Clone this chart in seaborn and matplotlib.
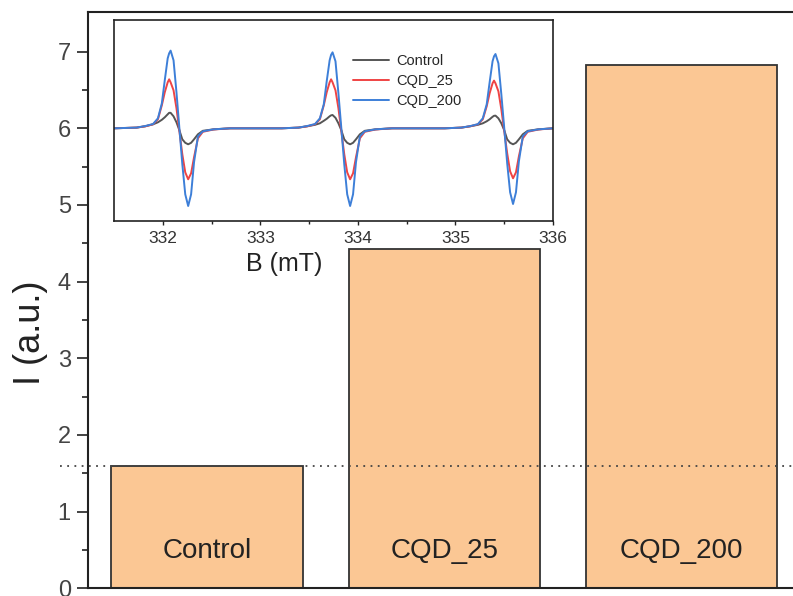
import matplotlib
matplotlib.use("Agg")
import matplotlib.pyplot as plt
import seaborn as sns
import pandas as pd

# Bar chart: integrated EPR intensity per sample
categories = ["Control", "CQD_25", "CQD_200"]
intensity = [1.60, 4.42, 6.82]
control_level = 1.60
yticks_major = [0, 1, 2, 3, 4, 5, 6, 7]
yticks_minor = [0.5, 1.5, 2.5, 3.5, 4.5, 5.5, 6.5]

# Inset: EPR spectra (magnetic field in mT, signal in arbitrary units)
field_mT = [
    331.50, 331.73, 331.82, 331.90, 331.95, 331.99, 332.02, 332.05, 332.065, 332.08, 332.11,
    332.14, 332.17, 332.20, 332.23, 332.26, 332.29, 332.32, 332.36, 332.41, 332.52, 332.69,
    333.22, 333.39, 333.48, 333.56, 333.61, 333.65, 333.68, 333.71, 333.725, 333.74, 333.77,
    333.80, 333.83, 333.86, 333.89, 333.92, 333.95, 333.98, 334.02, 334.07, 334.18, 334.35,
    334.89, 335.06, 335.15, 335.23, 335.28, 335.32, 335.35, 335.38, 335.395, 335.41, 335.44,
    335.47, 335.50, 335.53, 335.56, 335.59, 335.62, 335.65, 335.69, 335.74, 335.85, 336.00,
]
signal_control = [
    0, 0.07, 0.20, 0.40, 0.60, 0.85, 1.10, 1.40, 1.55, 1.55, 1.20,
    0.60, -0.20, -1.10, -1.45, -1.60, -1.45, -1.10, -0.60, -0.25, -0.10, 0,
    0, 0.07, 0.20, 0.35, 0.50, 0.75, 0.95, 1.20, 1.30, 1.33, 1.05,
    0.50, -0.20, -1.10, -1.45, -1.60, -1.45, -1.10, -0.60, -0.25, -0.10, 0,
    0, 0.07, 0.20, 0.35, 0.50, 0.70, 0.90, 1.15, 1.25, 1.27, 1.00,
    0.50, -0.20, -1.10, -1.45, -1.60, -1.45, -1.10, -0.60, -0.25, -0.10, 0,
]
signal_cqd25 = [
    0, 0.07, 0.20, 0.40, 0.90, 2.30, 3.60, 4.60, 4.90, 4.60, 3.80,
    2.00, -0.30, -2.60, -4.40, -5.10, -4.50, -2.90, -1.00, -0.35, -0.12, 0,
    0, 0.07, 0.20, 0.40, 0.90, 2.30, 3.60, 4.60, 4.90, 4.60, 3.80,
    2.00, -0.30, -2.60, -4.40, -5.10, -4.50, -2.90, -1.00, -0.35, -0.12, 0,
    0, 0.07, 0.20, 0.40, 0.90, 2.20, 3.50, 4.50, 4.77, 4.50, 3.70,
    1.90, -0.30, -2.50, -4.30, -5.00, -4.40, -2.80, -1.00, -0.35, -0.12, 0,
]
signal_cqd200 = [
    0, 0.07, 0.23, 0.43, 1.00, 2.50, 4.80, 7.00, 7.50, 7.77, 6.80,
    3.60, 0, -3.60, -6.60, -7.77, -6.60, -3.40, -0.80, -0.30, -0.10, 0,
    0, 0.07, 0.23, 0.43, 1.00, 2.40, 4.70, 6.80, 7.35, 7.60, 6.70,
    3.50, 0, -3.60, -6.60, -7.77, -6.60, -3.40, -0.80, -0.30, -0.10, 0,
    0, 0.07, 0.22, 0.42, 1.00, 2.40, 4.60, 6.70, 7.20, 7.43, 6.50,
    3.40, 0, -3.50, -6.40, -7.57, -6.40, -3.30, -0.80, -0.30, -0.10, 0,
]
inset_xticks = [332, 333, 334, 335, 336]
inset_xticks_minor = [332.5, 333.5, 334.5, 335.5]

line_colors = {"Control": "#555555", "CQD_25": "#ef4444", "CQD_200": "#3d7fd8"}
bar_color = "#fbc794"

sns.set_theme(style="ticks")
plt.rcParams["font.family"] = ["Liberation Sans", "DejaVu Sans"]

fig = plt.figure(figsize=(7.93, 5.96), dpi=100)
ax = fig.add_axes([0.1113, 0.0129, 0.8981, 0.9669])

bars_df = pd.DataFrame({"sample": categories, "I": intensity})
sns.barplot(data=bars_df, x="sample", y="I", color=bar_color, saturation=1,
            width=0.805, edgecolor="#333333", linewidth=1.3, ax=ax, zorder=2)

ax.set_xlim(-0.5, 2.5)
ax.set_ylim(0, 7.515)
ax.set_yticks(yticks_major)
ax.set_yticks(yticks_minor, minor=True)
ax.set_xticks([])
ax.set_xlabel("")
ax.set_ylabel("I (a.u.)", fontsize=26, color="#222222")
ax.yaxis.set_label_coords(-0.057, 0.444)
ax.tick_params(axis="y", which="major", direction="out", length=7.6, width=1.2,
               labelsize=17, labelcolor="#444444", color="#222222", pad=5)
ax.tick_params(axis="y", which="minor", direction="out", length=4.2, width=1.2,
               color="#222222")
for side in ["left", "top", "bottom"]:
    ax.spines[side].set_visible(True)
    ax.spines[side].set_linewidth(1.5)
    ax.spines[side].set_color("#222222")
ax.spines["right"].set_visible(False)

# dotted reference at the control level
ax.axhline(control_level, xmin=-0.04, xmax=1.0, color="#444444", lw=1.3,
           linestyle=(0, (1.0, 3.0)), zorder=3, clip_on=False)

# sample names inside the bars
for i, name in enumerate(categories):
    ax.text(i, 0.395, name, ha="center", va="baseline", fontsize=20,
            color="#222222", zorder=4)

# inset with the spectra
axin = fig.add_axes([0.1438, 0.6292, 0.5536, 0.3372])
axin.set_facecolor("white")
spec = pd.DataFrame({
    "B": field_mT * 3,
    "signal": signal_control + signal_cqd25 + signal_cqd200,
    "sample": (["Control"] * len(field_mT) + ["CQD_25"] * len(field_mT)
               + ["CQD_200"] * len(field_mT)),
})
sns.lineplot(data=spec, x="B", y="signal", hue="sample",
             hue_order=["Control", "CQD_25", "CQD_200"], palette=line_colors,
             estimator=None, sort=False, linewidth=1.4, ax=axin)
axin.set_xlim(331.5, 336)
axin.set_ylim(-9.27, 10.83)
axin.set_yticks([])
axin.set_ylabel("")
axin.set_xticks(inset_xticks)
axin.set_xticks(inset_xticks_minor, minor=True)
axin.tick_params(axis="x", which="major", direction="out", length=2.6, width=1.0,
                 labelsize=12.5, labelcolor="#333333", color="#222222", pad=4.3)
axin.tick_params(axis="x", which="minor", direction="out", length=2.0, width=1.0,
                 color="#222222")
axin.set_xlabel("B (mT)", fontsize=18, color="#222222")
axin.xaxis.set_label_coords(0.387, -0.154)
for side in axin.spines.values():
    side.set_visible(True)
    side.set_linewidth(1.2)
    side.set_color("#222222")

handles, labels = axin.get_legend_handles_labels()
axin.legend(handles, labels, loc="upper left", bbox_to_anchor=(0.544, 0.83),
            frameon=False, fontsize=10.5, handlelength=2.5, handletextpad=0.5,
            labelspacing=0.42, borderpad=0, borderaxespad=0)

fig.savefig("out.png", dpi=100)
